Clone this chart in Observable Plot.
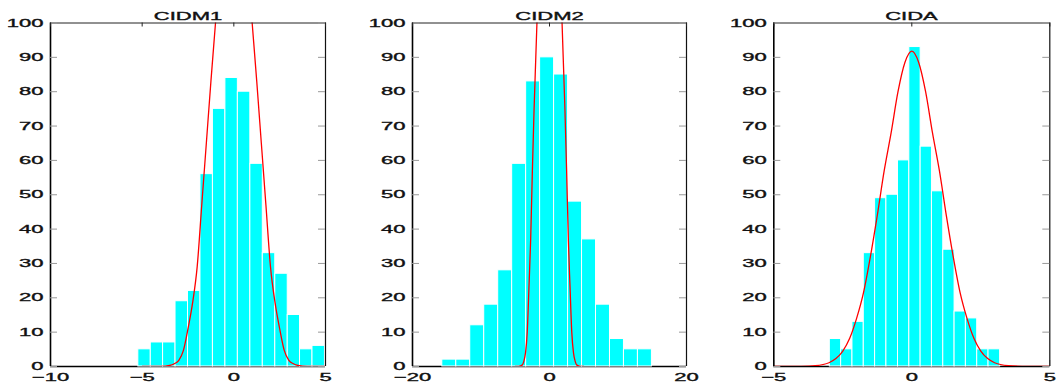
<!DOCTYPE html>
<html>
<head>
<meta charset="utf-8">
<script src="https://cdn.jsdelivr.net/npm/d3@7"></script>
<script src="https://cdn.jsdelivr.net/npm/@observablehq/plot@0.6"></script>
<style>
  html, body { margin: 0; padding: 0; background: #fff; }
  #chart { position: relative; width: 1056px; height: 386px; overflow: hidden; }
  #chart > div { position: absolute; top: 0; }
  #chart text { stroke: #111; stroke-width: 0.35px; }
</style>
</head>
<body>
<div id="chart"></div>
<script>
// Histogram counts (500 samples each, 15 bins) and bin edges
const cidm1Edges = [-5.21, -4.53, -3.86, -3.18, -2.50, -1.82, -1.14, -0.46, 0.22, 0.90, 1.58, 2.26, 2.94, 3.61, 4.29, 4.97];
const cidm1Counts = [5, 7, 7, 19, 22, 56, 75, 84, 80, 59, 33, 27, 15, 5, 6];

const cidm2Edges = [-15.65, -13.61, -11.57, -9.53, -7.49, -5.45, -3.41, -1.37, 0.67, 2.71, 4.75, 6.79, 8.83, 10.87, 12.91, 14.95];
const cidm2Counts = [2, 2, 12, 18, 28, 59, 83, 90, 85, 48, 37, 18, 8, 5, 5];

const cidaEdges = [-2.97, -2.56, -2.15, -1.74, -1.33, -0.92, -0.50, -0.09, 0.32, 0.73, 1.14, 1.55, 1.96, 2.37, 2.78, 3.20];
const cidaCounts = [8, 5, 13, 33, 49, 50, 60, 93, 64, 51, 34, 16, 14, 5, 5];

// Fitted density curves (scaled to counts)
const cidm1CurveX = [-5, -4.5, -4, -3.5, -3.25, -3, -2.75, -2.5, -2.25, -2, -1.75, -1.5, -1.25, -1, -0.75, -0.5, 0, 0.5, 0.75, 1, 1.25, 1.5, 1.75, 2, 2.25, 2.5, 2.75, 3, 3.25, 3.5, 4, 4.5, 5];
const cidm1CurveY = [0, 0, 0.03, 0.3, 0.8, 1.8, 4.7, 11, 18.5, 29, 47, 65, 83, 100, 117, 132, 150, 132, 117, 100, 83, 65, 47, 29, 18.5, 11, 4.7, 1.8, 0.8, 0.3, 0.03, 0, 0];

const cidm2CurveX = [-5, -4.5, -4, -3.75, -3.5, -3.25, -3, -2.75, -2.5, -2.25, -2, -1.75, -1.5, -1, -0.5, 0, 0.5, 1, 1.5, 1.75, 2, 2.25, 2.5, 2.75, 3, 3.25, 3.5, 3.75, 4, 4.5, 5];
const cidm2CurveY = [0, 0.05, 0.4, 1.5, 4, 10, 23, 37, 57, 75, 90, 105, 120, 145, 162, 170, 162, 145, 120, 105, 90, 75, 57, 37, 23, 10, 4, 1.5, 0.4, 0.05, 0];

const cidaCurveX = [-5, -4.5, -4, -3.5, -3, -2.75, -2.5, -2.25, -2, -1.75, -1.5, -1.25, -1, -0.75, -0.5, -0.25, 0, 0.25, 0.5, 0.75, 1, 1.25, 1.5, 1.75, 2, 2.25, 2.5, 2.75, 3, 3.5, 4, 4.5, 5];
const cidaCurveY = [0, 0, 0.04, 0.23, 1.1, 2.3, 4.5, 8.2, 14, 21.5, 32, 44, 57, 68, 80, 88.5, 91.8, 88.5, 80, 68, 57, 44, 32, 21.5, 14, 8.2, 4.5, 2.3, 1.1, 0.23, 0.04, 0, 0];

// Axis ticks
const yTicks = [0, 10, 20, 30, 40, 50, 60, 70, 80, 90, 100];
const cidm1XTicks = [-10, -5, 0, 5];
const cidm2XTicks = [-20, 0, 20];
const cidaXTicks = [-5, 0, 5];

const titles = ["CIDM1", "CIDM2", "CIDA"];

const FONT = "'Liberation Sans', Arial, Helvetica, sans-serif";
const STRETCH = 2.0;   // wide lettering of the labels
const HEIGHT = 386, M_TOP = 22.5, M_BOTTOM = 20;
const fmt = d => d < 0 ? "\u2212" + Math.abs(d) : String(d);

function panel({title, edges, counts, curveX, curveY, xDomain, xTicks, left, width, marginLeft, marginRight}) {
  const bins = counts.map((c, i) => ({x1: edges[i], x2: edges[i + 1], n: c}));
  const curve = curveX.map((x, i) => ({x, y: curveY[i]}));
  const fw = width - marginLeft - marginRight;
  const fh = HEIGHT - M_TOP - M_BOTTOM;
  const plot = Plot.plot({
    width, height: HEIGHT,
    marginLeft, marginRight, marginTop: M_TOP, marginBottom: M_BOTTOM,
    style: {fontFamily: FONT, fontSize: "11px", color: "#111", overflow: "visible", background: "white"},
    x: {domain: xDomain, axis: null},
    y: {domain: [0, 100], axis: null},
    marks: [
      Plot.ruleY([0], {stroke: "#000", strokeWidth: 1.5}),
      Plot.tickX(xTicks, {x: d => d, insetTop: fh - 6, stroke: "#999"}),
      Plot.rectY(bins, {x1: "x1", x2: "x2", y1: 0, y2: "n", fill: "#00ffff", stroke: "#fff", strokeWidth: 1}),
      Plot.line(curve, {x: "x", y: "y", stroke: "#ff0000", strokeWidth: 1.3, curve: "monotone-x", clip: true}),
      Plot.ruleX([xDomain[0]], {stroke: "#000", strokeWidth: 1.6}),
      Plot.ruleX([xDomain[1]], {stroke: "#111", strokeWidth: 1.2}),
      Plot.ruleY([100], {stroke: "#222", strokeWidth: 1}),
      Plot.tickY(yTicks, {y: d => d, insetRight: fw - 7, stroke: "#999"}),
      Plot.tickY(yTicks, {y: d => d, insetLeft: fw - 7, stroke: "#999"}),
      Plot.tickX(xTicks, {x: d => d, insetBottom: fh - 4, stroke: "#222"}),
      Plot.axisY(yTicks, {tickSize: 0, tickPadding: 7, tickFormat: fmt, fontSize: 11, fill: "#111"}),
      Plot.axisX(xTicks, {tickSize: 0, tickPadding: 7, tickFormat: fmt, fontSize: 11, fill: "#111"}),
      Plot.text([title], {frameAnchor: "top", dy: -11, text: d => d, fontSize: 11, fill: "#111"})
    ]
  });
  const holder = document.createElement("div");
  holder.style.left = left + "px";
  holder.appendChild(plot);
  document.getElementById("chart").appendChild(holder);
  // widen every label about its anchor point
  plot.querySelectorAll("text").forEach(t => {
    const b = t.getBBox();
    const a = getComputedStyle(t).textAnchor;
    const ax = a === "end" ? b.x + b.width : a === "middle" ? b.x + b.width / 2 : b.x;
    const prev = t.getAttribute("transform") || "";
    t.setAttribute("transform", `${prev} translate(${ax},0) scale(${STRETCH},1) translate(${-ax},0)`);
  });
}

panel({title: titles[0], edges: cidm1Edges, counts: cidm1Counts, curveX: cidm1CurveX, curveY: cidm1CurveY,
  xDomain: [-10, 5], xTicks: cidm1XTicks, left: 0, width: 340, marginLeft: 50, marginRight: 15});
panel({title: titles[1], edges: cidm2Edges, counts: cidm2Counts, curveX: cidm2CurveX, curveY: cidm2CurveY,
  xDomain: [-20, 20], xTicks: cidm2XTicks, left: 340, width: 360, marginLeft: 72, marginRight: 14});
panel({title: titles[2], edges: cidaEdges, counts: cidaCounts, curveX: cidaCurveX, curveY: cidaCurveY,
  xDomain: [-5, 5], xTicks: cidaXTicks, left: 700, width: 356, marginLeft: 73.3, marginRight: 6.7});
</script>
</body>
</html>
